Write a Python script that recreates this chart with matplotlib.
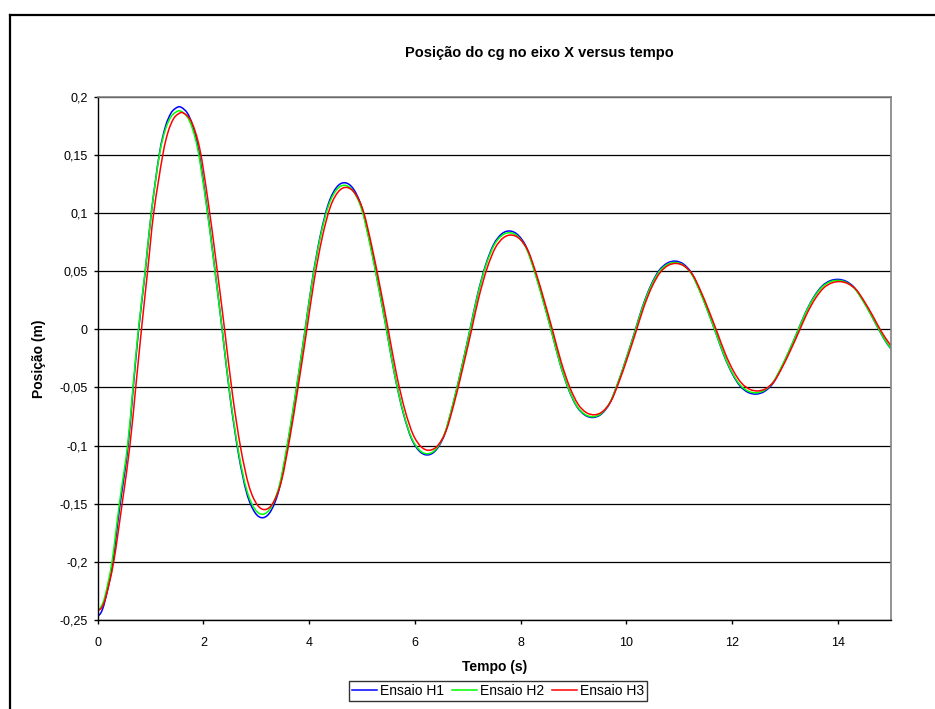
import matplotlib
matplotlib.use("Agg")
import matplotlib.pyplot as plt
import numpy as np
from matplotlib.lines import Line2D
from matplotlib.patches import PathPatch
from matplotlib.path import Path

plt.rcParams["font.family"] = ["Liberation Sans", "DejaVu Sans"]

# Ensaio H1 / H2 share the sampled times; H3 lags a little
t_h12 = [0.0, 0.07, 0.14, 0.27, 0.41, 0.565, 0.667, 0.77, 0.898, 1.014, 1.167, 1.28, 1.38, 1.47,
         1.575, 1.731, 1.886, 2.042, 2.197, 2.353, 2.508, 2.664, 2.819, 2.975,
         3.13, 3.285, 3.44, 3.595, 3.75, 3.905, 4.06, 4.215, 4.37, 4.525,
         4.68, 4.837, 4.994, 5.151, 5.308, 5.465, 5.622, 5.779, 5.936, 6.093,
         6.25, 6.405, 6.56, 6.715, 6.87, 7.025, 7.18, 7.335, 7.49, 7.645,
         7.80, 7.958, 8.115, 8.273, 8.43, 8.588, 8.745, 8.903, 9.06, 9.218,
         9.375, 9.531, 9.686, 9.842, 9.997, 10.153, 10.308, 10.464, 10.619, 10.775,
         10.93, 11.083, 11.236, 11.389, 11.542, 11.695, 11.848, 12.001, 12.154, 12.307,
         12.46, 12.615, 12.77, 12.925, 13.08, 13.235, 13.39, 13.545, 13.70, 13.855,
         14.01, 14.165, 14.32, 14.475, 14.63, 14.785, 14.94, 15.095]

h1 = [-0.247, -0.243, -0.233, -0.205, -0.155, -0.104, -0.053, -0.002, 0.049, 0.100, 0.151, 0.1741, 0.1854, 0.1899,
      0.191, 0.1830, 0.1592, 0.1134, 0.0587, 0.0004, -0.0596, -0.1073, -0.1408, -0.1576,
      -0.162, -0.1555, -0.1361, -0.0987, -0.0541, -0.0065, 0.0425, 0.0814, 0.1087, 0.1224,
      0.126, 0.1207, 0.1049, 0.0745, 0.0383, -0.0003, -0.0402, -0.0717, -0.0940, -0.1051,
      -0.108, -0.1036, -0.0907, -0.0657, -0.0359, -0.0041, 0.0287, 0.0547, 0.0729, 0.0821,
      0.0845, 0.0808, 0.0701, 0.0492, 0.0244, -0.0020, -0.0293, -0.0510, -0.0662, -0.0738,
      -0.0758, -0.0728, -0.0637, -0.0462, -0.0254, -0.0032, 0.0196, 0.0377, 0.0505, 0.0569,
      0.0586, 0.0560, 0.0483, 0.0335, 0.0157, -0.0032, -0.0225, -0.0379, -0.0489, -0.0543,
      -0.0557, -0.0534, -0.0468, -0.0340, -0.0188, -0.0024, 0.0143, 0.0276, 0.0370, 0.0417,
      0.0429, 0.0411, 0.0356, 0.0251, 0.0126, -0.0008, -0.0128, -0.0215]

h2 = [-0.242, -0.238, -0.229, -0.200, -0.150, -0.100, -0.050, 0.000, 0.050, 0.100, 0.150, 0.1717, 0.1822, 0.1865,
      0.1875, 0.1797, 0.1563, 0.1113, 0.0576, 0.0004, -0.0585, -0.1053, -0.1382, -0.1547,
      -0.159, -0.1526, -0.1336, -0.0968, -0.0530, -0.0063, 0.0418, 0.0800, 0.1068, 0.1203,
      0.1238, 0.1186, 0.1030, 0.0730, 0.0373, -0.0008, -0.0401, -0.0712, -0.0932, -0.1041,
      -0.107, -0.1027, -0.0899, -0.0652, -0.0358, -0.0044, 0.0279, 0.0536, 0.0716, 0.0806,
      0.083, 0.0794, 0.0688, 0.0482, 0.0237, -0.0024, -0.0293, -0.0507, -0.0657, -0.0732,
      -0.0752, -0.0722, -0.0633, -0.0460, -0.0255, -0.0036, 0.0189, 0.0368, 0.0494, 0.0557,
      0.0574, 0.0549, 0.0473, 0.0328, 0.0154, -0.0031, -0.0221, -0.0372, -0.0479, -0.0532,
      -0.0546, -0.0524, -0.0459, -0.0333, -0.0184, -0.0024, 0.0140, 0.0270, 0.0362, 0.0408,
      0.042, 0.0402, 0.0349, 0.0246, 0.0124, -0.0007, -0.0125, -0.0210]

t_h3 = [0.0, 0.08, 0.16, 0.302, 0.462, 0.609, 0.719, 0.828, 0.944, 1.059, 1.231, 1.33, 1.43, 1.525,
        1.62, 1.775, 1.93, 2.085, 2.24, 2.395, 2.55, 2.705, 2.86, 3.015,
        3.17, 3.324, 3.478, 3.632, 3.786, 3.94, 4.094, 4.248, 4.402, 4.556,
        4.71, 4.867, 5.024, 5.181, 5.338, 5.495, 5.652, 5.809, 5.966, 6.123,
        6.28, 6.435, 6.59, 6.745, 6.90, 7.055, 7.21, 7.365, 7.52, 7.675,
        7.83, 7.987, 8.144, 8.301, 8.458, 8.615, 8.772, 8.929, 9.086, 9.243,
        9.40, 9.555, 9.71, 9.865, 10.02, 10.175, 10.33, 10.485, 10.64, 10.795,
        10.95, 11.104, 11.258, 11.412, 11.566, 11.72, 11.874, 12.028, 12.182, 12.336,
        12.49, 12.645, 12.80, 12.955, 13.11, 13.265, 13.42, 13.575, 13.73, 13.885,
        14.04, 14.195, 14.35, 14.505, 14.66, 14.815, 14.97, 15.125]

h3 = [-0.242, -0.239, -0.229, -0.200, -0.150, -0.100, -0.050, 0.000, 0.050, 0.100, 0.150, 0.1695, 0.1807, 0.1852,
      0.186, 0.1783, 0.1553, 0.1110, 0.0581, 0.0019, -0.0561, -0.1021, -0.1345, -0.1507,
      -0.155, -0.1488, -0.1301, -0.0941, -0.0511, -0.0054, 0.0417, 0.0791, 0.1054, 0.1185,
      0.122, 0.1169, 0.1017, 0.0723, 0.0373, 0.0000, -0.0385, -0.0690, -0.0904, -0.1012,
      -0.104, -0.0998, -0.0874, -0.0633, -0.0346, -0.0041, 0.0274, 0.0523, 0.0699, 0.0787,
      0.081, 0.0776, 0.0671, 0.0471, 0.0231, -0.0025, -0.0287, -0.0496, -0.0643, -0.0716,
      -0.0735, -0.0706, -0.0618, -0.0449, -0.0248, -0.0033, 0.0189, 0.0365, 0.0488, 0.0550,
      0.0566, 0.0541, 0.0467, 0.0325, 0.0155, -0.0026, -0.0212, -0.0360, -0.0464, -0.0516,
      -0.053, -0.0509, -0.0445, -0.0323, -0.0178, -0.0022, 0.0137, 0.0264, 0.0354, 0.0398,
      0.041, 0.0392, 0.0340, 0.0238, 0.0118, -0.0011, -0.0118, -0.0210]

series = [("Ensaio H1", t_h12, h1, "#0000FF"),
          ("Ensaio H2", t_h12, h2, "#00FF00"),
          ("Ensaio H3", t_h3, h3, "#FF0000")]

x_ticks = [0, 2, 4, 6, 8, 10, 12, 14]
y_ticks = [-0.25, -0.2, -0.15, -0.1, -0.05, 0, 0.05, 0.1, 0.15, 0.2]
y_tick_labels = ["-0,25", "-0,2", "-0,15", "-0,1", "-0,05", "0", "0,05", "0,1", "0,15", "0,2"]


def smooth_path(x, y):
    """Excel-style smoothed line: Catmull-Rom segments as cubic Beziers."""
    p = np.column_stack([x, y])
    p_ext = np.vstack([p[0], p, p[-1]])
    verts = [p[0]]
    codes = [Path.MOVETO]
    for i in range(len(p) - 1):
        p0, p1, p2, p3 = p_ext[i], p_ext[i + 1], p_ext[i + 2], p_ext[i + 3]
        verts += [p1 + (p2 - p0) / 6.0, p2 - (p3 - p1) / 6.0, p2]
        codes += [Path.CURVE4] * 3
    return Path(verts, codes)


fig = plt.figure(figsize=(9.35, 7.09), dpi=100)
ax = fig.add_axes([0.1045, 0.1255, 0.848, 0.7381])

handles = []
for name, t, y, color in series:
    ax.add_patch(PathPatch(smooth_path(t, y), fill=False, edgecolor=color, lw=1.1,
                           capstyle="round", joinstyle="round"))
    handles.append(Line2D([], [], color=color, lw=1.1, label=name))

ax.set_xlim(0, 15)
ax.set_ylim(-0.25, 0.2)
ax.set_xticks(x_ticks)
ax.set_yticks(y_ticks)
ax.set_yticklabels(y_tick_labels)
ax.tick_params(direction="out", length=3, width=1, labelsize=9)
ax.tick_params(axis="x", pad=9)
ax.tick_params(axis="y", pad=4)
ax.grid(axis="y", color="black", lw=0.9)
ax.set_axisbelow(True)
for side in ["top", "right"]:
    ax.spines[side].set_color("#808080")
    ax.spines[side].set_linewidth(1.2)
for side in ["left", "bottom"]:
    ax.spines[side].set_color("black")
    ax.spines[side].set_linewidth(1.0)

ax.set_xlabel("Tempo (s)", fontsize=10, fontweight="bold", labelpad=8)
ax.set_ylabel("Posição (m)", fontsize=10, fontweight="bold", labelpad=10)
fig.text(539 / 935, 1 - 53 / 709, "Posição do cg no eixo X versus tempo",
         ha="center", va="center", fontsize=10.5, fontweight="bold")

leg = fig.legend(handles=handles, loc="center", bbox_to_anchor=(498 / 935, 1 - 691 / 709),
                 ncol=3, fontsize=10, frameon=True, fancybox=False, handlelength=1.8,
                 handletextpad=0.2, columnspacing=0.6, borderpad=0.2, borderaxespad=0)
leg.get_frame().set_edgecolor("black")
leg.get_frame().set_linewidth(1.0)

# chart-area border (left and top edges visible)
fig.add_artist(Line2D([9.5 / 935, 9.5 / 935], [0, 1 - 15 / 709], color="black", lw=1.6))
fig.add_artist(Line2D([9.5 / 935, 1], [1 - 15 / 709, 1 - 15 / 709], color="black", lw=1.6))

fig.savefig("out.png", dpi=100)
